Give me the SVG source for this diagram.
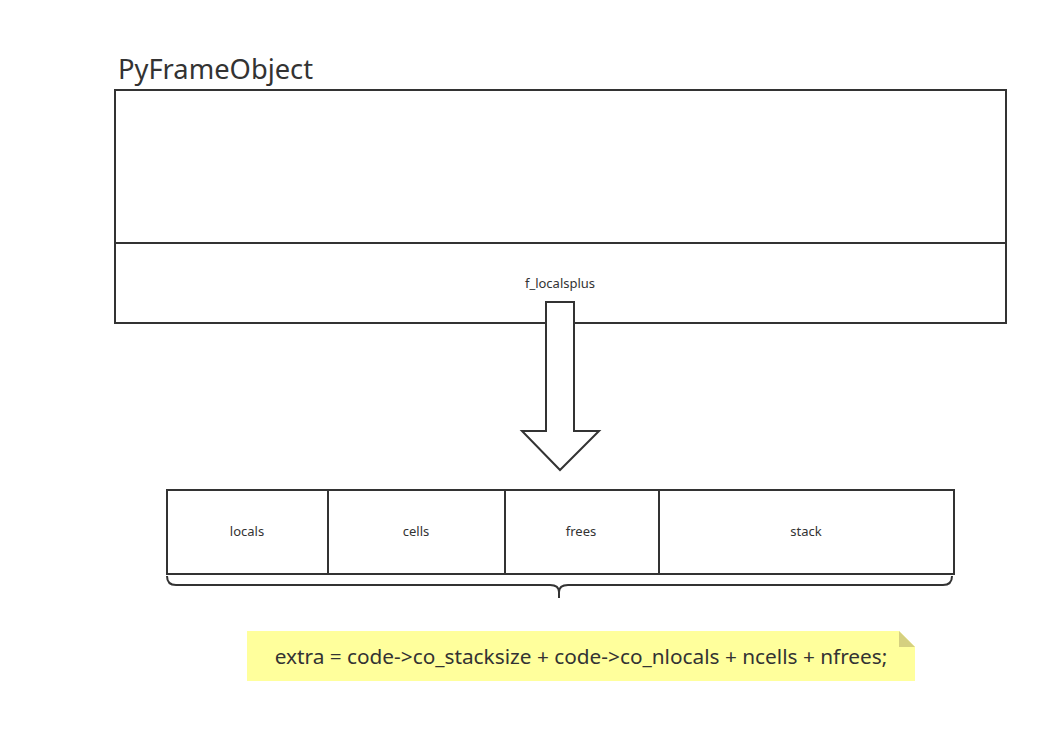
<svg xmlns="http://www.w3.org/2000/svg" width="1038" height="746" viewBox="0 0 1038 746">
<style>
.box{fill:#fff;stroke:#333;stroke-width:2}
.t{font-family:"Noto Sans","Open Sans",sans-serif;fill:#333}
.s{font-size:13px;text-anchor:middle}
</style>
<rect width="1038" height="746" fill="#fff"/>
<g id="frame">
<text class="t" x="118" y="79" font-size="27.3">PyFrameObject</text>
<rect class="box" x="115" y="90" width="891" height="233"/>
<line x1="115" y1="243" x2="1006" y2="243" stroke="#333" stroke-width="2"/>
<text class="t s" x="560" y="288">f_localsplus</text>
</g>
<g id="connectors">
<path d="M546,302 L574,302 L574,431 L599,431 L560,470 L522,431 L546,431 Z" fill="#fff" stroke="#333" stroke-width="2"/>
<path d="M167,576 Q167,585 176,585 L550,585 Q559,585 559,592 L559,598 M559,592 Q559,585 568,585 L943,585 Q952,585 952,576" fill="none" stroke="#333" stroke-width="2"/>
</g>
<g id="locals"><rect class="box" x="167" y="490" width="161" height="84"/><text class="t s" x="247" y="536">locals</text></g>
<g id="cells"><rect class="box" x="328" y="490" width="177" height="84"/><text class="t s" x="416" y="536">cells</text></g>
<g id="frees"><rect class="box" x="505" y="490" width="154" height="84"/><text class="t s" x="581" y="536">frees</text></g>
<g id="stack"><rect class="box" x="659" y="490" width="295" height="84"/><text class="t s" x="806" y="536">stack</text></g>
<g id="note">
<path d="M247,631 L899,631 L915,647 L915,681 L247,681 Z" fill="#ffff9c"/>
<path d="M899,631 L899,647 L915,647 Z" fill="#d5d080"/>
<text class="t" x="581" y="664" font-size="20.8" text-anchor="middle">extra = code-&gt;co_stacksize + code-&gt;co_nlocals + ncells + nfrees;</text>
</g>
</svg>
